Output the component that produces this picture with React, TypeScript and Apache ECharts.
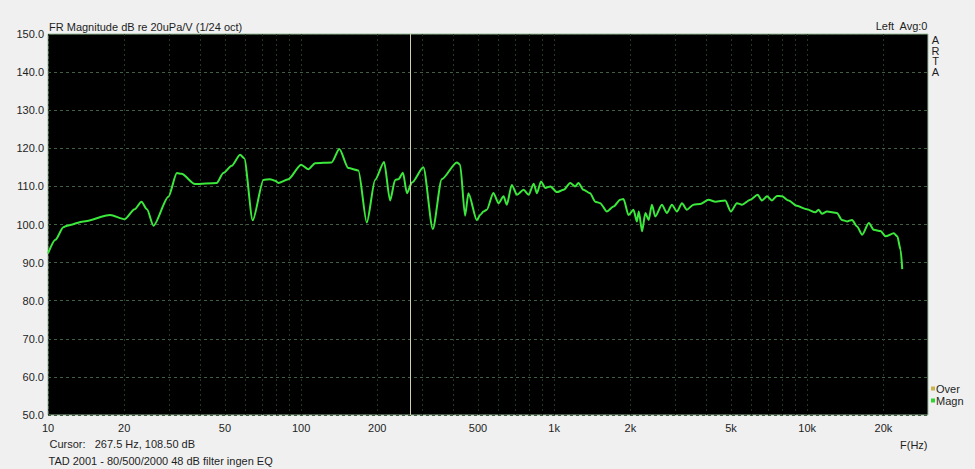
import React, { useEffect, useRef } from 'react';
import * as echarts from 'echarts';

// Frequency response (1/24 oct)
const FREQ_HZ = [
  10, 10.7, 11.5, 11.9, 13.8, 17.6, 20.1, 22, 23.4, 24.6, 26.1, 29.9, 32.3, 33.7, 38.1, 46.4, 49.3,
  53.2, 57.4, 59.6, 64.4, 71.0, 75.4, 78.9, 81.3, 89.1, 100, 106.9, 113.6, 132.1, 141.6, 153.7,
  168.4, 181.8, 196.1, 212.8, 224.7, 235.3, 242.7, 252.6, 261.9, 274.2, 304.3, 331.5, 359.6,
  412.6, 425, 444.6, 458.3, 495, 510, 525.7, 542, 575, 603, 631, 650, 680, 713, 757, 793, 830,
  855, 887, 923, 966, 1026, 1090, 1157, 1211, 1248, 1306, 1387, 1452, 1520, 1615, 1716, 1823,
  1879, 1967, 2058, 2122, 2160, 2225, 2293, 2362, 2434, 2508, 2665, 2789, 2919, 3056, 3199,
  3345, 3553, 3777, 4073, 4339, 4742, 4993, 5272, 5520, 5954, 6365, 6627, 6937, 7250, 7588,
  7943, 8441, 9100, 9970, 10760, 11090, 11430, 11970, 13100, 13710, 14360, 15030, 15740,
  16480, 17510, 18330, 19470, 20390, 21980, 22680, 23380, 23730,
];
const MAGN_DB = [
  92.4, 96.0, 99.3, 99.7, 100.8, 102.5, 101.4, 104.0, 106.0, 104.0, 99.7, 107.3, 113.5, 113.3, 110.6, 110.9, 113.5,
  115.4, 118.3, 117.4, 101.1, 111.7, 111.9, 111.5, 110.9, 111.9, 115.7, 114.5, 116.1, 116.3, 119.8, 114.8,
  114.2, 100.5, 111.7, 116.4, 106.3, 111.7, 111.9, 113.6, 108.2, 111.0, 115.0, 98.8, 111.9,
  116.3, 115.7, 102.3, 108.2, 101.1, 102.5, 103.4, 103.9, 108.3, 105.6, 107.4, 105.2, 110.4, 107.8, 109.1, 107.8, 110.7,
  108.2, 111.3, 109.6, 110.0, 108.5, 109.1, 110.9, 110.0, 110.9, 109.1, 108.2, 106.0, 105.6, 103.4, 104.7, 106.5,
  106.7, 102.5, 103.9, 100.8, 103.4, 98.2, 103.0, 101.2, 105.2, 102.1, 105.2, 103.0, 105.2, 103.4, 105.6,
  103.9, 105.2, 105.4, 106.5, 106.0, 106.3, 103.4, 105.6, 105.2, 106.5, 107.8, 106.3, 107.4, 106.3, 107.5,
  107.4, 106.3, 104.9, 104.0, 103.2, 103.9, 102.8, 103.4, 103.0, 101.2, 100.8, 101.2, 99.5,
  97.3, 100.4, 98.6, 98.3, 96.9, 97.7, 96.9, 93.4, 88.3,
];

const X_LABEL_FREQS = [10, 20, 50, 100, 200, 500, 1000, 2000, 5000, 10000, 20000];
const X_GRID_FREQS = [
  10, 20, 30, 40, 50, 60, 70, 80, 90,
  100, 200, 300, 400, 500, 600, 700, 800, 900,
  1000, 2000, 3000, 4000, 5000, 6000, 7000, 8000, 9000,
  10000, 20000,
];
const F_MIN = 10;
const F_MAX = 30000;
const Y_MIN = 50;
const Y_MAX = 150;
const Y_STEP = 10;
const CURSOR_HZ = 267.5;
const CURSOR_DB = 108.5;

const TITLE = 'FR Magnitude dB re 20uPa/V (1/24 oct)';
const CHANNEL_TEXT = 'Left  Avg:0';
const BRAND_LETTERS = ['A', 'R', 'T', 'A'];
const CURSOR_TEXT = `Cursor:   ${CURSOR_HZ} Hz, ${CURSOR_DB.toFixed(2)} dB`;
const NOTE_TEXT = 'TAD 2001 - 80/500/2000 48 dB filter ingen EQ';
const X_UNIT = 'F(Hz)';
const SERIES_NAMES = ['Over', 'Magn'];

const FONT = '"Liberation Sans", Arial, sans-serif';
const TXT = '#1e1e1e';

function fmtFreq(v: number): string {
  const f = Math.round(Math.pow(10, v));
  return f >= 1000 ? `${f / 1000}k` : String(f);
}

export default function App() {
  const ref = useRef<HTMLDivElement>(null);
  useEffect(() => {
    if (!ref.current) return;
    const chart = echarts.init(ref.current, undefined, { renderer: 'svg' });
    const data = FREQ_HZ.map((f, i) => [Math.log10(f), MAGN_DB[i]]);
    const textEl = (text: string, x: number, y: number, align: string, size = 11) => ({
      type: 'text',
      x,
      y,
      silent: true,
      style: {
        text,
        fill: TXT,
        font: `${size}px ${FONT}`,
        textAlign: align,
        textVerticalAlign: 'middle',
      },
    });
    chart.setOption({
      animation: false,
      backgroundColor: '#f0f0f0',
      textStyle: { fontFamily: FONT },
      grid: {
        left: 48,
        top: 34,
        right: 47,
        bottom: 54,
        show: true,
        backgroundColor: '#000000',
        borderColor: '#9fbf9f',
        borderWidth: 1,
        containLabel: false,
      },
      legend: {
        data: SERIES_NAMES,
        orient: 'vertical',
        left: 931,
        top: 383,
        icon: 'rect',
        itemWidth: 4,
        itemHeight: 4,
        itemGap: 1,
        padding: 0,
        selectedMode: false,
        textStyle: { fontSize: 11, color: TXT, fontFamily: FONT, padding: [0, 0, 0, -4] },
      },
      xAxis: {
        type: 'value',
        min: Math.log10(F_MIN),
        max: Math.log10(F_MAX),
        axisLine: { show: false },
        axisTick: { show: false, customValues: X_GRID_FREQS.map((f) => Math.log10(f)) },
        axisLabel: {
          customValues: X_LABEL_FREQS.map((f) => Math.log10(f)),
          formatter: (v: number) => fmtFreq(v),
          color: TXT,
          fontSize: 11,
          fontFamily: FONT,
          margin: 7,
          showMinLabel: true,
        },
        splitLine: {
          show: true,
          lineStyle: { color: '#223622', width: 1, type: [2, 3] },
        },
      },
      yAxis: {
        type: 'value',
        min: Y_MIN,
        max: Y_MAX,
        interval: Y_STEP,
        axisLine: { show: false },
        axisTick: { show: false },
        axisLabel: {
          formatter: (v: number) => v.toFixed(1),
          color: TXT,
          fontSize: 11,
          fontFamily: FONT,
          margin: 4,
        },
        splitLine: {
          show: true,
          lineStyle: { color: '#435f43', width: 1, type: [3, 3] },
        },
      },
      series: [
        {
          name: SERIES_NAMES[0],
          type: 'line',
          data: [],
          itemStyle: { color: '#c8b44a' },
          lineStyle: { color: '#c8b44a' },
        },
        {
          name: SERIES_NAMES[1],
          type: 'line',
          data,
          showSymbol: false,
          smooth: 0.25,
          smoothMonotone: 'x',
          itemStyle: { color: '#2fd42f' },
          lineStyle: { color: '#3be83b', width: 2 },
          markLine: {
            silent: true,
            symbol: 'none',
            label: { show: false },
            lineStyle: { color: '#cfcfae', width: 1, type: 'solid' },
            data: [{ xAxis: Math.log10(CURSOR_HZ) }],
          },
        },
      ],
      graphic: [
        textEl(TITLE, 49, 26.5, 'left'),
        textEl(CHANNEL_TEXT, 927.5, 26, 'right'),
        ...BRAND_LETTERS.map((ch, i) => textEl(ch, 935.5, 40 + i * 10.5, 'center', 11)),
        textEl(CURSOR_TEXT, 49.5, 443.5, 'left'),
        textEl(NOTE_TEXT, 48.5, 460.5, 'left'),
        textEl(X_UNIT, 927.5, 444.5, 'right'),
      ],
    });
    return () => chart.dispose();
  }, []);
  return (
    <div
      ref={ref}
      style={{ position: 'fixed', left: 0, top: 0, width: 975, height: 469, background: '#f0f0f0' }}
    />
  );
}
